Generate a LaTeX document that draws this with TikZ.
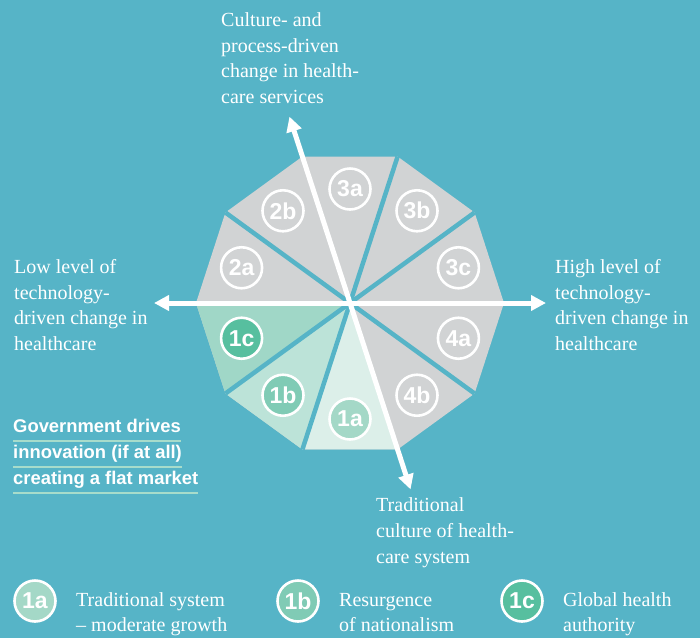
\documentclass[tikz,border=0pt]{standalone}
\usepackage{fontspec}
\setmainfont{Liberation Serif}
\newfontfamily\labelsans{Liberation Sans}
\usetikzlibrary{arrows.meta}
\definecolor{bg}{RGB}{86,180,199}
\definecolor{segg}{RGB}{209,211,212}
\definecolor{segA}{RGB}{220,239,233}
\definecolor{segB}{RGB}{188,227,216}
\definecolor{segC}{RGB}{160,215,199}
\definecolor{cirA}{RGB}{164,216,199}
\definecolor{cirB}{RGB}{128,203,181}
\definecolor{cirC}{RGB}{87,191,159}
\definecolor{uline}{RGB}{167,220,203}
\begin{document}
\begin{tikzpicture}[x=1pt,y=-1pt,
  axis/.style={white, line width=5pt, {Triangle[length=15pt,width=15pt]}-{Triangle[length=15pt,width=15pt]}},
  sepline/.style={bg, line width=4.5pt},
  tag/.style={circle, draw=white, line width=2.6pt, minimum size=41pt, inner sep=0pt, text=white, font=\labelsans\bfseries\fontsize{23}{23}\selectfont},
  body/.style={text=white, align=left, inner sep=0pt, anchor=base west, font=\fontsize{20}{25.6}\selectfont},
  gov/.style={text=white, inner sep=0pt, anchor=base west, font=\labelsans\bfseries\fontsize{18.4}{18.4}\selectfont},
  uln/.style={uline, line width=2pt}
]
\useasboundingbox (0,0) rectangle (700,638);
\fill[bg] (0,0) rectangle (700,638);
\coordinate (c) at (350,303);
\foreach \a in {0,36,...,324} \coordinate (v\a) at ({350+154*cos(\a)},{303-154*sin(\a)});
% decagon
\fill[segg] (v0) -- (v36) -- (v72) -- (v108) -- (v144) -- (v180) -- (v216) -- (v252) -- (v288) -- (v324) -- cycle;
\fill[segC] (c) -- (v180) -- (v216) -- cycle;
\fill[segB] (c) -- (v216) -- (v252) -- cycle;
\fill[segA] (c) -- (v252) -- (v288) -- cycle;
% separators
\foreach \a in {36,72,144,216,252,324} \draw[sepline] (c) -- (v\a);
% axes
\coordinate (axL) at (154,303);
\coordinate (axR) at (546,303);
\coordinate (axT) at ({350+196*cos(108)},{303-196*sin(108)});
\coordinate (axB) at ({350+196*cos(288)},{303-196*sin(288)});
\draw[axis] (axL) -- (axR);
\draw[axis] (axB) -- (axT);
% tags
\node[tag] (t3c) at ({350+114*cos(18)},{303-114*sin(18)}) {3c};
\node[tag] (t3b) at ({350+114*cos(54)},{303-114*sin(54)}) {3b};
\node[tag] (t3a) at ({350+114*cos(90)},{303-114*sin(90)}) {3a};
\node[tag] (t2b) at ({350+114*cos(126)},{303-114*sin(126)}) {2b};
\node[tag] (t2a) at ({350+114*cos(162)},{303-114*sin(162)}) {2a};
\node[tag, fill=cirC] (t1c) at ({350+114*cos(198)},{303-114*sin(198)}) {1c};
\node[tag, fill=cirB] (t1b) at ({350+114*cos(234)},{303-114*sin(234)}) {1b};
\node[tag, fill=cirA] (t1a) at ({350+116*cos(270)},{303-116*sin(270)}) {1a};
\node[tag] (t4b) at ({350+114*cos(306)},{303-114*sin(306)}) {4b};
\node[tag] (t4a) at ({350+114*cos(342)},{303-114*sin(342)}) {4a};
% axis texts (base = last line)
\node[body] (top) at (221,103.5) {Culture- and\\process-driven\\change in health-\\care services};
\node[body] (left) at (14,350.5) {Low level of\\technology-\\driven change in\\healthcare};
\node[body] (right) at (555,350.5) {High level of\\technology-\\driven change in\\healthcare};
\node[body] (bottom) at (376,563) {Traditional\\culture of health-\\care system};
% government text
\node[gov] (g1) at (13,432) {Government drives};
\node[gov] (g2) at (13,458) {innovation (if at all)};
\node[gov] (g3) at (13,484) {creating a flat market};
\draw[uln] ([yshift=-8.7pt]g1.base west) -- ([yshift=-8.7pt]g1.base east);
\draw[uln] ([yshift=-8.7pt]g2.base west) -- ([yshift=-8.7pt]g2.base east);
\draw[uln] ([yshift=-8.7pt]g3.base west) -- ([yshift=-8.7pt]g3.base east);
% legend
\node[tag, fill=cirA] (l1a) at (35,601) {1a};
\node[tag, fill=cirB] (l1b) at (298,601) {1b};
\node[tag, fill=cirC] (l1c) at (522,601) {1c};
\node[body] (d1a) at (76,631.7) {Traditional system\\– moderate growth};
\node[body] (d1b) at (339,631.7) {Resurgence\\of nationalism};
\node[body] (d1c) at (563,631.7) {Global health\\authority};
\end{tikzpicture}
\end{document}
